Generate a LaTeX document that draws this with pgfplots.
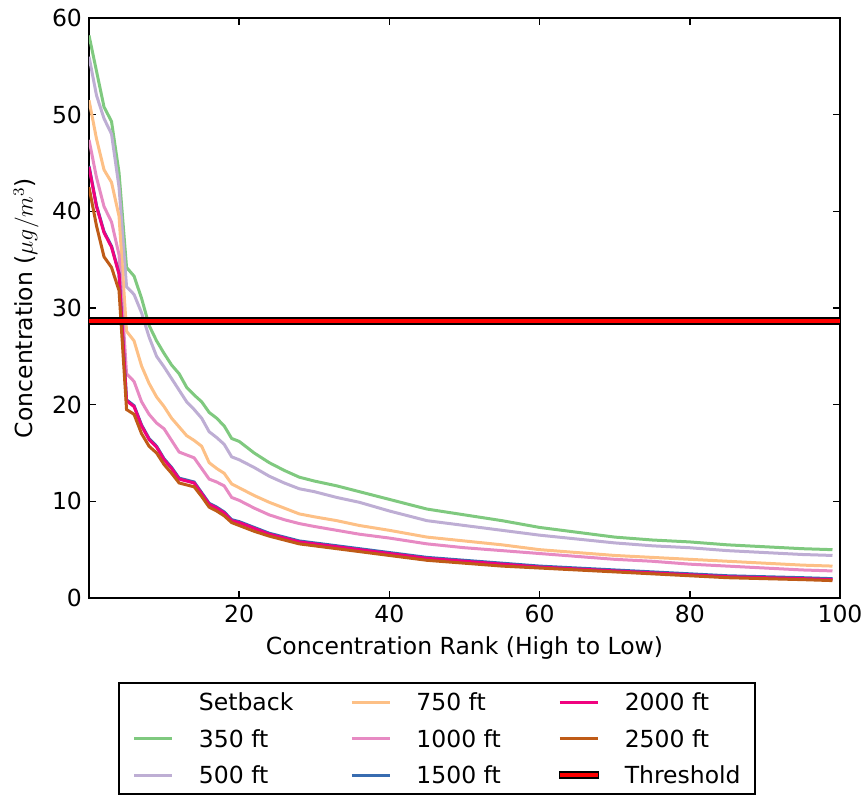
\documentclass[border=0pt]{standalone}
\usepackage{fontspec}
\setmainfont{DejaVu Sans}
\usepackage{pgfplots}
\pgfplotsset{compat=1.18}
\definecolor{cA}{HTML}{7FC97F}
\definecolor{cB}{HTML}{BEAED4}
\definecolor{cC}{HTML}{FDC086}
\definecolor{cD}{HTML}{E78AC3}
\definecolor{cE}{HTML}{386CB0}
\definecolor{cF}{HTML}{F0027F}
\definecolor{cG}{HTML}{BF5B17}
\newcommand{\fs}{\fontsize{11.75}{14}\selectfont}
\begin{document}
\begin{tikzpicture}
\begin{axis}[
  at={(0,0)}, anchor=south west, scale only axis,
  width=375.5pt, height=290pt,
  xmin=0, xmax=100, ymin=0, ymax=60,
  xtick={20,40,60,80,100}, ytick={0,10,20,30,40,50,60},
  minor tick num=0,
  /pgf/number format/assume math mode=true,
  tick label style={font=\fs},
  label style={font=\fs},
  xlabel={Concentration Rank (High to Low)},
  ylabel={Concentration ($\mu g/m^3$)},
  xlabel style={at={(axis description cs:0.5,-0.0862)}, anchor=center},
  ylabel style={at={(axis description cs:-0.0839,0.5)}, anchor=center},
  axis line style={line width=1pt},
  major tick style={line width=0.8pt, black},
  major tick length=3.5pt,
  tick align=inside,
  legend columns=3,
  legend cell align=left,
  legend image code/.code={\draw[#1] (0pt,0pt) -- (19pt,0pt);},
  legend style={at={(axis description cs:0.0386,-0.1448)}, anchor=north west,
    draw=black, line width=1pt, inner xsep=7pt, inner ysep=0.5pt, row sep=0pt,
    font=\fs,
    nodes={inner xsep=0pt, inner ysep=0pt, text height=13.4pt, text depth=4.85pt},
    /tikz/every odd column/.append style={column sep=12.5pt},
    /tikz/every even column/.append style={column sep=28.5pt}},
]
% legend (row-wise ordering to mimic column-wise fill)
\addlegendimage{empty legend}\addlegendentry{Setback}
\addlegendimage{cC, line width=1.5pt}\addlegendentry{750 ft}
\addlegendimage{cF, line width=1.5pt}\addlegendentry{2000 ft}
\addlegendimage{cA, line width=1.5pt}\addlegendentry{350 ft}
\addlegendimage{cD, line width=1.5pt}\addlegendentry{1000 ft}
\addlegendimage{cG, line width=1.5pt}\addlegendentry{2500 ft}
\addlegendimage{cB, line width=1.5pt}\addlegendentry{500 ft}
\addlegendimage{cE, line width=1.5pt}\addlegendentry{1500 ft}
\addlegendimage{legend image code/.code={\draw[black,line width=4pt,line cap=rect](1.5pt,0pt)--(17.5pt,0pt);\draw[red,line width=2pt](0pt,0pt)--(19pt,0pt);}}\addlegendentry{Threshold}

% 350 ft
\addplot[cA, line width=1.5pt, forget plot] coordinates {
(0,58.2)(1,54.5)(2,50.8)(3,49.3)(4,44)(5,34.2)(6,33.3)(7,31)(8,28.2)(9,26.6)(10,25.3)(11,24.1)(12,23.2)(13,21.8)(14,21)(15,20.3)(16,19.2)(17,18.6)(18,17.8)(19,16.5)(20,16.2)(22,15)(24,14)(26,13.2)(28,12.5)(30,12.1)(33,11.6)(36,11)(40,10.2)(45,9.2)(50,8.6)(55,8)(60,7.3)(65,6.8)(70,6.3)(75,6.0)(80,5.8)(85,5.5)(90,5.3)(95,5.1)(99,5.0)};
% 500 ft
\addplot[cB, line width=1.5pt, forget plot] coordinates {
(0,56)(1,52)(2,49.6)(3,48)(4,42.5)(5,32.2)(6,31.4)(7,29.5)(8,27)(9,25)(10,23.9)(11,22.7)(12,21.5)(13,20.3)(14,19.5)(15,18.6)(16,17.2)(17,16.6)(18,15.9)(19,14.6)(20,14.3)(22,13.5)(24,12.6)(26,11.9)(28,11.3)(30,11)(33,10.4)(36,9.9)(40,9.0)(45,8.0)(50,7.5)(55,7.0)(60,6.5)(65,6.1)(70,5.7)(75,5.4)(80,5.2)(85,4.9)(90,4.7)(95,4.5)(99,4.4)};
% 750 ft
\addplot[cC, line width=1.5pt, forget plot] coordinates {
(0,51.5)(1,47.5)(2,44.3)(3,43)(4,39.5)(5,27.6)(6,26.6)(7,24)(8,22.2)(9,20.8)(10,19.8)(11,18.6)(12,17.7)(13,16.8)(14,16.3)(15,15.7)(16,14)(17,13.4)(18,12.9)(19,11.8)(20,11.4)(22,10.6)(24,9.9)(26,9.3)(28,8.7)(30,8.4)(33,8.0)(36,7.5)(40,7.0)(45,6.3)(50,5.9)(55,5.5)(60,5.0)(65,4.7)(70,4.4)(75,4.2)(80,4.0)(85,3.8)(90,3.6)(95,3.4)(99,3.3)};
% 1000 ft
\addplot[cD, line width=1.5pt, forget plot] coordinates {
(0,47.4)(1,43.5)(2,40.5)(3,38.9)(4,35.5)(5,23.2)(6,22.4)(7,20.3)(8,19)(9,18.1)(10,17.5)(11,16.3)(12,15.1)(13,14.8)(14,14.5)(15,13.4)(16,12.3)(17,12)(18,11.6)(19,10.4)(20,10.1)(22,9.3)(24,8.6)(26,8.1)(28,7.7)(30,7.4)(33,7.0)(36,6.6)(40,6.2)(45,5.6)(50,5.2)(55,4.9)(60,4.6)(65,4.3)(70,4.0)(75,3.8)(80,3.5)(85,3.3)(90,3.1)(95,2.9)(99,2.8)};
% 1500 ft
\addplot[cE, line width=1.5pt, forget plot] coordinates {
(0,44.7)(1,40.6)(2,37.9)(3,36.4)(4,33.6)(5,20.5)(6,19.9)(7,17.9)(8,16.5)(9,15.7)(10,14.4)(11,13.5)(12,12.4)(13,12.2)(14,12.0)(15,10.9)(16,9.8)(17,9.4)(18,8.9)(19,8.1)(20,7.9)(22,7.3)(24,6.7)(26,6.3)(28,5.9)(30,5.7)(33,5.4)(36,5.1)(40,4.7)(45,4.2)(50,3.9)(55,3.6)(60,3.3)(65,3.1)(70,2.9)(75,2.7)(80,2.5)(85,2.3)(90,2.2)(95,2.1)(99,2.0)};
% 2000 ft
\addplot[cF, line width=1.5pt, forget plot] coordinates {
(0,44.6)(1,40.5)(2,37.8)(3,36.3)(4,33.5)(5,20.4)(6,19.8)(7,17.8)(8,16.4)(9,15.6)(10,14.3)(11,13.4)(12,12.3)(13,12.1)(14,11.9)(15,10.8)(16,9.7)(17,9.3)(18,8.8)(19,8.0)(20,7.8)(22,7.2)(24,6.6)(26,6.2)(28,5.8)(30,5.6)(33,5.3)(36,5.0)(40,4.6)(45,4.1)(50,3.8)(55,3.5)(60,3.2)(65,3.0)(70,2.8)(75,2.6)(80,2.4)(85,2.2)(90,2.1)(95,2.0)(99,1.9)};
% 2500 ft
\addplot[cG, line width=1.5pt, forget plot] coordinates {
(0,42.5)(1,38.5)(2,35.3)(3,34.2)(4,31.8)(5,19.5)(6,19)(7,17)(8,15.7)(9,15)(10,13.8)(11,12.9)(12,11.9)(13,11.7)(14,11.5)(15,10.5)(16,9.4)(17,9.0)(18,8.5)(19,7.8)(20,7.5)(22,6.9)(24,6.4)(26,6.0)(28,5.6)(30,5.4)(33,5.1)(36,4.8)(40,4.4)(45,3.9)(50,3.6)(55,3.3)(60,3.1)(65,2.9)(70,2.7)(75,2.5)(80,2.3)(85,2.1)(90,2.0)(95,1.9)(99,1.8)};
% Threshold
\addplot[black, line width=4pt, forget plot] coordinates {(0,28.7)(100,28.7)};
\addplot[red, line width=2pt, forget plot] coordinates {(0,28.7)(100,28.7)};
\end{axis}
\pgfresetboundingbox
\path[use as bounding box] (-44.5pt,-99.5pt) rectangle (387pt,299pt);
\end{tikzpicture}
\end{document}
